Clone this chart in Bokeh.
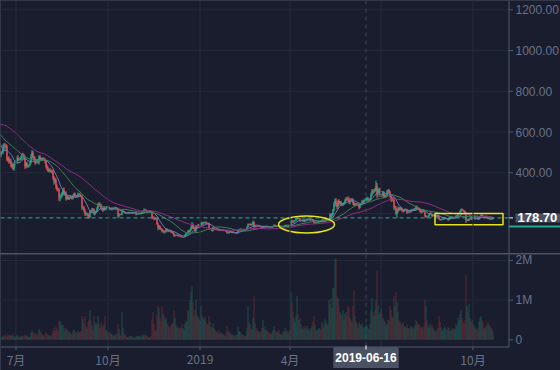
import numpy as np
import pandas as pd
from bokeh.plotting import figure
from bokeh.layouts import column
from bokeh.models import Range1d, Span, Label, BoxAnnotation, ColumnDataSource, GlobalInlineStyleSheet
from bokeh.core.properties import value
from bokeh.embed import file_html
from bokeh.resources import INLINE

# ---------------- data (daily) ----------------
HISTORY_START = "2018-04-01"   # closes before the visible window feed the moving averages
CANDLE_START = "2018-06-15"

CLOSE = [
    # 2018-04
    379, 386, 417, 380, 383, 370, 385, 400, 398, 415, 430, 492, 493, 501, 531,
    511, 502, 524, 567, 616, 605, 621, 643, 708, 618, 662, 645, 683, 689, 670,
    # 2018-05
    673, 687, 779, 785, 816, 792, 752, 752, 752, 725, 679, 686, 731, 728, 709,
    708, 667, 697, 695, 715, 698, 649, 580, 602, 587, 588, 570, 517, 566, 555, 577,
    # 2018-06
    579, 591, 619, 592, 608, 606, 605, 601, 597, 525, 531, 496, 476, 519, 486,
    499, 499, 518, 537, 535, 526, 464, 472, 455, 458, 432, 441, 419, 435, 454,
    # 2018-07
    453, 475, 464, 467, 467, 474, 490, 486, 474, 432, 447, 432, 434, 436, 450,
    478, 500, 479, 469, 448, 460, 458, 450, 480, 471, 465, 469, 469, 467, 457, 433,
    # 2018-08
    421, 410, 415, 408, 410, 406, 377, 356, 364, 332, 319, 318, 279, 279, 286,
    298, 315, 295, 301, 273, 282, 272, 276, 282, 278, 274, 287, 296, 288, 284, 283,
    # 2018-09
    295, 295, 289, 285, 229, 229, 216, 196, 198, 198, 185, 183, 212, 210, 222,
    220, 197, 209, 210, 225, 247, 240, 244, 228, 218, 216, 229, 221, 231, 233,
    # 2018-10
    231, 227, 220, 222, 227, 225, 226, 229, 227, 225, 189, 195, 196, 195, 209,
    211, 208, 203, 202, 203, 205, 202, 203, 203, 202, 203, 204, 204, 196, 197, 197,
    # 2018-11
    199, 201, 199, 209, 210, 219, 218, 212, 208, 212, 213, 211, 206, 182, 180,
    175, 173, 175, 150, 130, 136, 126, 123, 114, 116, 109, 111, 123, 119, 113,
    # 2018-12
    118, 116, 108, 110, 102, 91, 93, 93, 95, 91, 89, 90, 86, 84, 84,
    85, 95, 100, 101, 114, 111, 118, 130, 145, 130, 131, 116, 137, 134, 143, 134,
    # 2019-01
    140, 155, 148, 154, 156, 158, 151, 150, 152, 126, 126, 124, 116, 129, 122,
    124, 123, 120, 124, 117, 116, 118, 117, 118, 116, 116, 112, 105, 104, 108, 107,
    # 2019-02
    107, 110, 106, 106, 105, 103, 104, 119, 119, 124, 120, 122, 121, 120, 121,
    123, 133, 146, 145, 148, 144, 147, 158, 135, 139, 137, 136, 136,
    # 2019-03
    136, 135, 131, 126, 137, 137, 138, 135, 138, 137, 133, 134, 133, 133, 137,
    143, 141, 138, 139, 139, 136, 136, 137, 137, 134, 135, 142, 141, 143, 143, 141,
    # 2019-04
    141, 164, 160, 157, 165, 165, 174, 179, 175, 176, 164, 164, 163, 167, 161,
    167, 166, 173, 173, 174, 170, 170, 170, 165, 154, 154, 157, 156, 157, 162,
    # 2019-05
    161, 160, 168, 162, 162, 170, 172, 170, 170, 173, 194, 187, 196, 216, 248,
    264, 244, 234, 262, 251, 255, 245, 244, 248, 251, 266, 273, 271, 268, 255, 268,
    # 2019-06
    265, 270, 252, 243, 247, 247, 245, 245, 230, 246, 246, 260, 255, 262, 268,
    268, 274, 268, 270, 270, 294, 310, 308, 310, 318, 336, 295, 311, 318, 290,
    # 2019-07
    293, 291, 302, 283, 287, 288, 307, 313, 307, 288, 268, 275, 268, 228, 229,
    199, 211, 226, 220, 227, 223, 214, 211, 217, 219, 219, 206, 211, 210, 209, 217,
    # 2019-08
    218, 217, 222, 222, 232, 226, 226, 220, 210, 206, 216, 211, 208, 187, 187,
    185, 185, 194, 202, 196, 187, 192, 194, 190, 186, 189, 187, 173, 169, 170, 172,
    # 2019-09
    172, 178, 178, 174, 174, 168, 178, 181, 181, 180, 178, 180, 181, 188, 189,
    198, 198, 210, 220, 218, 215, 211, 201, 166, 170, 166, 174, 174, 171, 181,
    # 2019-10
    176, 180, 175, 177, 176, 172, 180, 184, 192, 190, 181, 182, 183, 186, 180,
    175, 177, 172, 174, 173, 178.70,
]

# upper / lower shadow lengths of the visible candles (from 2018-06-15)
WICK_UP = [
    12, 8, 10, 22, 8, 10, 6, 12, 6, 10, 8, 12, 6, 10, 8, 6,
    10, 8, 12, 6, 8, 10, 6, 8, 6, 10, 6, 8, 4, 6, 10, 14, 12, 8, 6, 10, 8, 6, 10, 6, 8, 4, 6, 8, 6, 4, 6,
    8, 10, 6, 8, 6, 4, 10, 8, 12, 8, 10, 6, 8, 10, 12, 8, 10, 14, 6, 8, 6, 8, 4, 6, 6, 4, 8, 6, 8, 4, 6,
    8, 6, 6, 4, 6, 6, 8, 6, 8, 6, 6, 8, 6, 4, 6, 4, 6, 4, 6, 8, 6, 8, 10, 4, 6, 4, 4, 6, 4, 4,
    4, 3, 4, 3, 4, 2, 3, 4, 3, 2, 4, 6, 3, 2, 8, 5, 3, 2, 3, 2, 4, 2, 3, 2, 2, 3, 2, 3, 2, 3, 2,
    3, 4, 2, 5, 3, 6, 4, 3, 2, 3, 2, 3, 2, 4, 6, 5, 3, 4, 3, 6, 8, 6, 4, 5, 4, 3, 5, 6, 5, 4,
    4, 3, 3, 4, 2, 3, 4, 3, 4, 3, 2, 3, 2, 2, 2, 3, 4, 5, 4, 6, 5, 6, 8, 13, 6, 5, 5, 6, 5, 6, 6,
    3, 4, 5, 4, 4, 3, 4, 3, 4, 3, 3, 2, 3, 4, 3, 2, 3, 2, 3, 2, 2, 3, 2, 2, 2, 2, 2, 2, 3, 2, 3,
    2, 3, 2, 2, 2, 2, 2, 4, 3, 4, 3, 2, 3, 2, 2, 3, 4, 5, 4, 4, 3, 4, 8, 4, 3, 3, 2, 3,
    2, 2, 2, 2, 4, 3, 2, 3, 2, 2, 2, 2, 2, 2, 3, 4, 3, 2, 2, 2, 3, 2, 2, 2, 2, 2, 3, 3, 2, 2, 3,
    3, 8, 5, 4, 4, 3, 5, 5, 4, 3, 3, 3, 2, 4, 3, 3, 2, 4, 3, 3, 2, 3, 2, 3, 3, 3, 3, 2, 3, 4,
    3, 3, 4, 5, 3, 4, 4, 3, 3, 4, 8, 8, 6, 6, 8, 10, 12, 8, 6, 8, 6, 8, 6, 5, 6, 6, 8, 6, 14, 12, 6,
    6, 6, 4, 6, 5, 4, 6, 4, 4, 6, 5, 6, 8, 6, 6, 10, 8, 6, 5, 6, 8, 10, 10, 8, 8, 25, 14, 12, 8, 10,
    8, 6, 8, 6, 6, 5, 8, 6, 8, 5, 6, 8, 6, 6, 10, 8, 10, 8, 6, 6, 5, 6, 4, 5, 6, 5, 4, 5, 4, 4, 5,
    4, 5, 4, 6, 6, 8, 5, 4, 4, 5, 3, 5, 4, 3, 4, 4, 3, 4, 4, 3, 3, 4, 4, 3, 3, 3, 4, 3, 2, 3, 3,
    3, 3, 4, 3, 3, 2, 3, 3, 4, 2, 3, 2, 3, 3, 3, 4, 4, 5, 5, 4, 3, 3, 2, 2, 4, 3, 3, 3, 3, 3,
    3, 3, 3, 3, 2, 3, 3, 4, 5, 4, 3, 3, 3, 4, 3, 3, 2, 3, 2, 2, 3,
]
WICK_DN = [
    6, 10, 8, 6, 12, 8, 14, 8, 10, 12, 8, 6, 10, 4, 10, 6,
    6, 10, 6, 8, 4, 8, 10, 6, 12, 14, 8, 10, 6, 8, 4, 6, 10, 8, 10, 8, 6, 8, 6, 10, 6, 8, 6, 4, 8, 10, 12,
    10, 6, 8, 6, 8, 10, 12, 14, 8, 12, 10, 8, 16, 20, 8, 6, 8, 6, 8, 10, 6, 4, 6, 4, 8, 6, 4, 6, 8, 6, 4,
    6, 4, 8, 6, 12, 8, 10, 8, 6, 8, 8, 10, 4, 6, 4, 6, 4, 6, 4, 4, 6, 8, 6, 6, 4, 8, 4, 4, 6, 4,
    3, 4, 3, 4, 2, 3, 2, 3, 2, 4, 12, 6, 3, 4, 3, 2, 4, 3, 4, 2, 3, 4, 2, 3, 3, 2, 3, 2, 5, 3, 2,
    2, 3, 3, 2, 4, 2, 3, 4, 3, 2, 3, 2, 4, 10, 6, 8, 4, 3, 6, 12, 8, 6, 5, 8, 6, 8, 5, 4, 6, 5,
    3, 4, 4, 3, 4, 5, 4, 3, 3, 4, 3, 2, 3, 2, 3, 2, 2, 3, 4, 3, 6, 4, 3, 5, 8, 6, 6, 5, 4, 5, 6,
    4, 3, 4, 3, 3, 4, 3, 4, 2, 6, 4, 3, 4, 3, 4, 3, 2, 3, 2, 3, 2, 2, 3, 2, 3, 2, 3, 4, 3, 2, 3,
    3, 2, 3, 2, 2, 3, 2, 2, 3, 2, 3, 2, 2, 3, 2, 2, 2, 3, 4, 3, 4, 3, 3, 7, 3, 2, 3, 2,
    2, 3, 2, 3, 2, 2, 3, 2, 3, 2, 3, 2, 2, 2, 2, 2, 3, 2, 3, 2, 2, 3, 2, 2, 3, 2, 2, 2, 3, 2, 2,
    2, 3, 5, 4, 3, 3, 3, 4, 4, 3, 6, 3, 3, 2, 4, 2, 3, 2, 3, 2, 3, 3, 3, 4, 5, 3, 2, 3, 2, 3,
    3, 3, 2, 4, 3, 2, 3, 4, 3, 2, 4, 10, 6, 6, 5, 8, 12, 14, 6, 10, 8, 8, 6, 8, 6, 5, 6, 8, 6, 8, 10,
    8, 6, 10, 8, 6, 6, 8, 6, 10, 4, 6, 5, 8, 6, 4, 6, 8, 8, 6, 4, 4, 8, 12, 8, 6, 6, 20, 12, 10, 8,
    8, 10, 6, 8, 6, 8, 4, 6, 8, 10, 12, 8, 8, 12, 10, 8, 22, 6, 8, 6, 6, 5, 6, 4, 5, 4, 8, 6, 5, 6, 4,
    4, 3, 3, 4, 3, 8, 4, 5, 4, 6, 4, 3, 3, 5, 8, 8, 3, 3, 2, 4, 4, 3, 3, 4, 3, 3, 3, 4, 4, 3, 3,
    3, 2, 3, 3, 2, 3, 2, 3, 3, 3, 3, 2, 2, 3, 2, 4, 4, 4, 3, 4, 4, 4, 3, 12, 4, 3, 3, 3, 2, 3,
    3, 3, 4, 3, 2, 3, 3, 3, 3, 3, 4, 3, 2, 3, 4, 3, 3, 4, 2, 3, 2,
]

# daily volume in millions (from 2018-06-15)
VOLUME_M = [
    0.10, 0.08, 0.07, 0.09, 0.12, 0.10, 0.08, 0.15, 0.09, 0.13, 0.11, 0.12, 0.10, 0.14, 0.09, 0.08,
    0.09, 0.13, 0.10, 0.08, 0.07, 0.09, 0.11, 0.08, 0.09, 0.14, 0.11, 0.12, 0.09, 0.07, 0.08, 0.17,
    0.24, 0.19, 0.15, 0.18, 0.14, 0.12, 0.16, 0.28, 0.22, 0.17, 0.14, 0.11, 0.10, 0.13, 0.19,
    0.16, 0.13, 0.12, 0.10, 0.09, 0.14, 0.25, 0.30, 0.22, 0.33, 0.28, 0.22, 0.46, 0.47, 0.41, 0.36,
    0.38, 0.29, 0.22, 0.31, 0.26, 0.22, 0.18, 0.20, 0.15, 0.14, 0.21, 0.26, 0.20, 0.19, 0.17,
    0.24, 0.18, 0.20, 0.22, 0.60, 0.52, 0.42, 0.60, 0.33, 0.28, 0.45, 0.50, 0.74, 0.48, 0.36,
    0.25, 0.60, 0.44, 0.38, 0.42, 0.60, 0.40, 0.30, 0.45, 0.36, 0.33, 0.40, 0.60, 0.25, 0.22,
    0.18, 0.16, 0.20, 0.15, 0.13, 0.10, 0.09, 0.14, 0.12, 0.15, 0.40, 0.28, 0.12, 0.10, 0.70,
    0.30, 0.17, 0.14, 0.10, 0.07, 0.06, 0.08, 0.09, 0.10, 0.08, 0.07, 0.06, 0.05, 0.09, 0.10, 0.08,
    0.10, 0.09, 0.07, 0.12, 0.10, 0.14, 0.11, 0.12, 0.09, 0.07, 0.06, 0.08, 0.10, 0.52, 0.70,
    0.40, 0.25, 0.22, 0.62, 0.85, 0.80, 0.55, 0.45, 0.85, 0.65, 0.60, 0.48, 0.55, 0.42, 0.38,
    0.32, 0.28, 0.36, 0.40, 0.44, 0.74, 0.55, 0.38, 0.30, 0.35, 0.30, 0.28, 0.32, 0.40, 0.30,
    0.25, 0.42, 0.45, 0.48, 0.75, 0.68, 1.00, 1.20, 1.35, 0.95, 0.60, 0.75, 1.00, 0.62, 0.58, 0.55,
    0.48, 0.85, 0.62, 0.55, 0.50, 0.58, 0.45, 0.40, 0.38, 0.60, 0.45, 0.30, 0.32, 0.42, 0.30,
    0.25, 0.22, 0.20, 0.18, 0.24, 0.16, 0.18, 0.14, 0.15, 0.12, 0.10, 0.18, 0.35, 0.22, 0.20, 0.18,
    0.15, 0.12, 0.14, 0.11, 0.10, 0.13, 0.12, 0.32, 0.22, 0.20, 0.15, 0.14, 0.12, 0.11, 0.10,
    0.09, 0.30, 0.85, 0.45, 0.40, 0.28, 0.25, 0.55, 1.10, 0.42, 0.30, 0.28, 0.22,
    0.20, 0.16, 0.22, 0.30, 0.50, 0.32, 0.25, 0.28, 0.22, 0.18, 0.20, 0.15, 0.16, 0.18, 0.24,
    0.35, 0.25, 0.22, 0.18, 0.20, 0.25, 0.16, 0.14, 0.12, 0.22, 0.18, 0.30, 0.24, 0.22, 0.18, 0.20,
    0.25, 1.20, 0.95, 0.70, 0.55, 0.45, 0.60, 1.10, 0.65, 0.50, 0.55, 0.40, 0.30, 0.28, 0.35,
    0.30, 0.25, 0.35, 0.28, 0.22, 0.30, 0.28, 0.35, 0.45, 0.60, 0.38, 0.25, 0.22, 0.28, 0.30,
    0.28, 0.25, 0.45, 0.40, 0.30, 0.52, 0.45, 0.40, 0.38, 1.00, 0.90, 1.05, 0.80, 1.30, 1.30,
    2.05, 2.05, 1.10, 1.05, 0.85, 0.70, 0.65, 0.60, 0.75, 0.50, 0.65, 0.70, 0.60, 0.85, 0.80, 0.55,
    0.50, 0.45, 0.85, 1.25, 0.60, 0.45, 0.40, 0.30, 0.45, 0.40, 0.35, 0.42, 0.30, 0.32, 0.28,
    0.40, 0.35, 0.30, 0.28, 0.40, 0.75, 1.05, 0.70, 0.60, 0.75, 1.00, 1.75, 0.85, 0.65, 0.70,
    0.80, 0.65, 0.55, 0.50, 0.45, 0.35, 0.40, 0.50, 0.48, 0.85, 0.75, 0.60, 0.55, 1.10, 0.85,
    1.20, 0.95, 0.70, 0.50, 0.45, 0.38, 0.40, 0.45, 0.35, 0.32, 0.30, 0.38, 0.30, 0.28, 0.30, 0.35,
    0.32, 0.30, 0.28, 0.35, 0.50, 0.45, 0.38, 0.40, 0.35, 0.30, 0.32, 0.28, 0.35, 1.00, 0.85,
    0.50, 0.35, 0.30, 0.40, 0.32, 0.38, 0.30, 0.25, 0.22, 0.20, 0.25, 0.30, 0.60, 0.45, 0.32, 0.25,
    0.22, 0.30, 0.35, 0.28, 0.25, 0.32, 0.30, 0.22, 0.25, 0.28, 0.30, 0.25, 0.28, 0.40, 0.35,
    0.55, 0.50, 0.65, 0.75, 0.55, 0.45, 0.40, 0.50, 1.65, 0.85, 0.70, 0.90, 0.55, 0.45, 0.50,
    0.40, 0.35, 0.30, 0.28, 0.25, 0.30, 0.45, 0.55, 0.60, 0.50, 0.45, 0.30, 0.28, 0.35, 0.40,
    0.45, 0.38, 0.35, 0.30, 0.28, 0.20,
]

MA_PERIODS = [10, 30, 60]
X_TICKS = ["2018-07-01", "2018-10-01", "2019-01-01", "2019-04-01", "2019-07-01", "2019-10-01"]
X_TICK_LABELS = ["7月", "10月", "2019", "4月", "7月", "10月"]
PRICE_TICKS = [400, 600, 800, 1000, 1200]
PRICE_TICK_LABELS = ["400.00", "600.00", "800.00", "1000.00", "1200.00"]
PRICE_GRID = [200, 400, 600, 800, 1000, 1200]
VOL_TICKS = [0, 1_000_000, 2_000_000]
VOL_TICK_LABELS = ["0", "1M", "2M"]
VOL_GRID = [1_000_000, 2_000_000]
LAST_PRICE = 178.70
CROSSHAIR_DATE = "2019-06-16"
# hand-drawn highlights (data coordinates)
ELLIPSE_CENTER, ELLIPSE_PRICE, ELLIPSE_DAYS, ELLIPSE_HEIGHT = "2019-04-17 12:00", 146, 56, 83
BOX_START, BOX_END, BOX_LOW, BOX_HIGH = "2019-08-24", "2019-10-31", 145, 200

# ---------------- layout & styling ----------------
W, H_PRICE, H_VOL = 560, 253, 116
PLOT_W = 508                   # width of the plotting area; price scale to its right
VOL_AXIS_Y = 346.5             # page y of the time axis line
P_TOP, P_SCALE = 1245.6, 0.20375          # price at page top, px per price unit
V_TOP, V_SCALE = 2.1513e6, 39.65e-6       # volume at volume-pane top, px per unit
V_Y0 = H_PRICE + 1

BG = "#1a1d2d"
GRID = "#252a3b"
AXIS = "#4f5a6f"
TXT = "#67728a"
UP, DOWN = "#22b48a", "#f2525b"
VUP, VDOWN = "#1d5d52", "#6c2c38"
MA_COLORS = ["#6e78b6", "#3f7f55", "#8a2d80"]
YELLOW = "#e6e41a"
TAG_BG = "#4b5264"
FONT = "Noto Sans CJK SC"
NUMFONT = "Liberation Sans"
DAY = 86400000


def ms(s):
    return int(pd.Timestamp(s).value // 10**6)


x0 = ms("2018-06-15 12:00")      # left edge of the chart (1 px per day)


def xd(px):                      # page x -> time
    return x0 + px * DAY


def yp(py):                      # page y -> price (price pane)
    return P_TOP - py / P_SCALE


def yv(py):                      # page y -> volume (volume pane)
    return V_TOP - (py - V_Y0) / V_SCALE


dates = pd.date_range(HISTORY_START, periods=len(CLOSE), freq="D")
close = pd.Series(CLOSE, index=dates, dtype=float)
opens = close.shift(1)
vis = np.asarray(dates >= pd.Timestamp(CANDLE_START))
n = int(vis.sum())
assert len(WICK_UP) == n and len(WICK_DN) == n and len(VOLUME_M) == n, (n, len(WICK_UP), len(WICK_DN), len(VOLUME_M))

c = close.values[vis]
o = opens.values[vis]
top = np.maximum(o, c)
bot = np.minimum(o, c)
is_up = c >= o
cs = ColumnDataSource(dict(
    x=dates[vis], top=top, bot=bot,
    high=top + np.array(WICK_UP, float), low=bot - np.array(WICK_DN, float),
    vol=np.array(VOLUME_M) * 1e6,
    color=np.where(is_up, UP, DOWN), vcolor=np.where(is_up, VUP, VDOWN),
))

x_range = Range1d(xd(0), xd(W))
tick_ms = [ms(t) for t in X_TICKS]
axis_x = xd(PLOT_W + 0.5)


def make_fig(h, yr):
    f = figure(width=W, height=h, x_range=x_range, y_range=yr,
               x_axis_type="datetime", x_axis_location=None, y_axis_location=None,
               toolbar_location=None, output_backend="svg", min_border=0)
    f.background_fill_color = BG
    f.border_fill_color = BG
    f.outline_line_color = None
    f.grid.visible = False
    return f


def scale_labels(f, ticks, labels):
    f.segment(x0=[axis_x] * len(ticks), x1=[xd(PLOT_W + 4.5)] * len(ticks), y0=ticks, y1=ticks,
              line_color=AXIS, line_width=1)
    f.text(x=[xd(PLOT_W + 7)] * len(ticks), y=ticks, text=labels, text_color=TXT,
           text_font=value(NUMFONT), text_font_size=value("12px"),
           text_baseline="middle", text_align="left")


# ---------------- price pane ----------------
p = make_fig(H_PRICE, Range1d(yp(H_PRICE), yp(0)))
for t in tick_ms:
    p.add_layout(Span(location=t, dimension="height", line_color=GRID, line_width=1))
p.segment(x0=[xd(0)] * len(PRICE_GRID), x1=[xd(PLOT_W)] * len(PRICE_GRID), y0=PRICE_GRID, y1=PRICE_GRID,
          line_color=GRID, line_width=1)
p.add_layout(Span(location=ms(CROSSHAIR_DATE), dimension="height", line_color="#3a475e",
                  line_dash="4 4", line_width=1))

p.segment(x0="x", y0="high", x1="x", y1="low", line_color="color", line_width=1, source=cs)
p.vbar(x="x", width=DAY, top="top", bottom="bot", fill_color="color", line_color=None, source=cs)

for per, col in zip(MA_PERIODS, MA_COLORS):
    ma = close.rolling(per).mean()
    p.line(dates, ma.values, line_color=col, line_width=1)

p.segment(x0=[xd(0)], x1=[xd(PLOT_W)], y0=[LAST_PRICE], y1=[LAST_PRICE],
          line_color="#2ab3a0", line_dash="4 3", line_width=1)

p.ellipse(x=[ms(ELLIPSE_CENTER)], y=[ELLIPSE_PRICE], width=[ELLIPSE_DAYS * DAY], height=[ELLIPSE_HEIGHT],
          fill_color=None, line_color=YELLOW, line_width=1.5)
p.quad(left=[ms(BOX_START)], right=[ms(BOX_END)], bottom=[BOX_LOW], top=[BOX_HIGH],
       fill_color=None, line_color=YELLOW, line_width=1.5)

# price scale
p.add_layout(Span(location=axis_x, dimension="height", line_color=AXIS, line_width=1))
scale_labels(p, PRICE_TICKS, PRICE_TICK_LABELS)
p.segment(x0=[axis_x], x1=[xd(PLOT_W + 4.5)], y0=[LAST_PRICE], y1=[LAST_PRICE],
          line_color="white", line_width=1)
p.quad(left=[xd(PLOT_W)], right=[xd(W)], top=[yp(225)], bottom=[yp(227)],
       fill_color="#26a88f", line_color=None)
p.add_layout(Label(x=xd(PLOT_W + 7), y=LAST_PRICE, text=f"{LAST_PRICE:.2f}", text_color="white",
                   text_font=NUMFONT, text_font_size="13px", text_font_style="bold",
                   text_baseline="middle", text_align="left",
                   background_fill_color=TAG_BG,
                   padding=dict(left=2, right=3, top=0, bottom=0)))

# ---------------- volume pane ----------------
v = make_fig(H_VOL, Range1d(yv(V_Y0 + H_VOL), yv(V_Y0)))
n_t = len(tick_ms)
v.segment(x0=tick_ms, x1=tick_ms, y0=[yv(V_Y0)] * n_t, y1=[yv(VOL_AXIS_Y)] * n_t,
          line_color=GRID, line_width=1)
v.segment(x0=[xd(0)] * len(VOL_GRID), x1=[xd(PLOT_W)] * len(VOL_GRID), y0=VOL_GRID, y1=VOL_GRID,
          line_color=GRID, line_width=1)
v.segment(x0=[ms(CROSSHAIR_DATE)], x1=[ms(CROSSHAIR_DATE)], y0=[yv(V_Y0)], y1=[yv(VOL_AXIS_Y)],
          line_color="#3a475e", line_dash="4 4", line_width=1)

v.vbar(x="x", width=0.8 * DAY, top="vol", bottom=0, fill_color="vcolor", line_color=None, source=cs)

# volume scale and time axis
v.segment(x0=[axis_x], x1=[axis_x], y0=[yv(V_Y0)], y1=[yv(VOL_AXIS_Y)], line_color=AXIS, line_width=1)
v.segment(x0=[xd(0)], x1=[axis_x], y0=[yv(VOL_AXIS_Y)], y1=[yv(VOL_AXIS_Y)], line_color=AXIS, line_width=1)
scale_labels(v, VOL_TICKS, VOL_TICK_LABELS)
v.segment(x0=tick_ms, x1=tick_ms, y0=[yv(VOL_AXIS_Y)] * n_t, y1=[yv(VOL_AXIS_Y + 3)] * n_t,
          line_color=AXIS, line_width=1)
v.text(x=tick_ms, y=[yv(359)] * n_t, text=X_TICK_LABELS, text_color=TXT,
       text_font=value(FONT), text_font_size=value("12px"), text_baseline="middle", text_align="center")

v.add_layout(Label(x=ms(CROSSHAIR_DATE), y=yv(357), text=CROSSHAIR_DATE, text_color="white",
                   text_font=NUMFONT, text_font_size="12px", text_font_style="bold",
                   text_baseline="middle", text_align="center",
                   background_fill_color=TAG_BG,
                   padding=dict(left=2, right=2, top=6, bottom=6)))
# small marker tick at the top of the time tag
v.add_layout(BoxAnnotation(left=ms(CROSSHAIR_DATE) - 0.5 * DAY, right=ms(CROSSHAIR_DATE) + 0.5 * DAY,
                           top=yv(345), bottom=yv(349), fill_color="white", fill_alpha=1,
                           line_color=None))

layout = column(p, v, spacing=1, styles={"background-color": "#4b5467"},
                stylesheets=[GlobalInlineStyleSheet(css=f"body {{ margin: 0; background: {BG}; }}")])

open("out.html", "w").write(file_html(layout, INLINE))
